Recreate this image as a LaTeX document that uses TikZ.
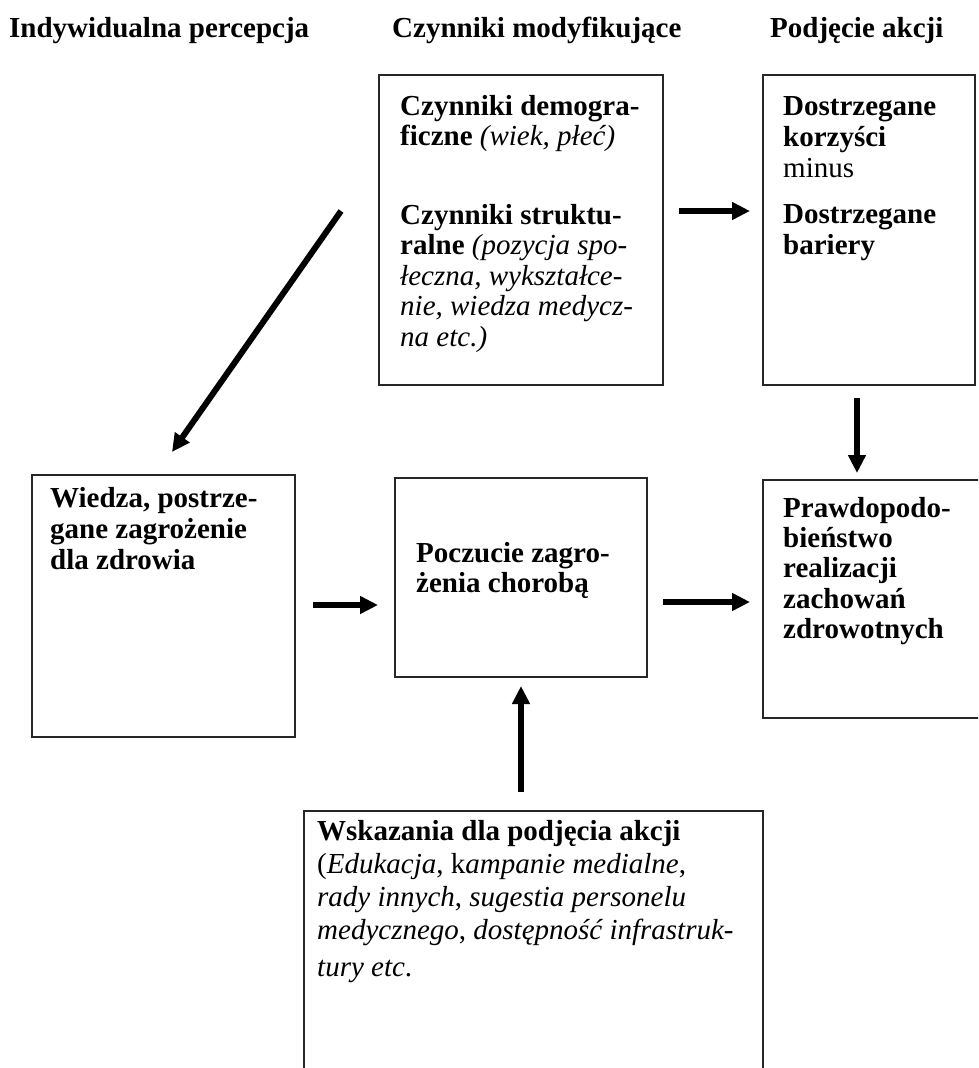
\documentclass[tikz,border=0pt]{standalone}
\usepackage{fontspec}
\setmainfont{Liberation Serif}
\usetikzlibrary{arrows.meta,fit}
\begin{document}
\begin{tikzpicture}[x=1pt,y=-1pt,
  box/.style={draw=black!85, line width=1.3pt, inner sep=0pt, minimum size=0pt},
  head/.style={anchor=base west, inner sep=0pt, font=\fontsize{29}{31}\selectfont\bfseries},
  txt/.style={anchor=north west, inner sep=0pt, align=left, font=\fontsize{29}{#1}\selectfont},
  arr/.style={line width=6pt, -{Triangle[length=18pt,width=17pt]}}]
\useasboundingbox (0,0) rectangle (978,1068);
\clip (0,0) rectangle (978,1068);

% column headers
\node[head] (h1t) at (9,37) {Indywidualna percepcja};
\node[head] (h2t) at (392,37) {Czynniki modyfikujące};
\node[head] (h3t) at (770,37) {Podjęcie akcji};

% boxes
\node[box, fit={(379,75)(663,385)}] (demo) {};
\node[box, fit={(763,75)(975,385)}] (korz) {};
\node[box, fit={(32,475)(295,737)}] (wiedza) {};
\node[box, fit={(395,478)(647,677)}] (pocz) {};
\node[box, fit={(763,480)(995,718)}] (prawd) {};
\node[box, fit={(304,811)(763,1090)}] (wsk) {};

% texts
\node[txt=30.5] (demotxt) at (400,{115-0.7*30.5}) {\strut\textbf{Czynniki demogra-}\\
\textbf{ficzne} \textit{(wiek, płeć)}\\[48pt]
\textbf{Czynniki struktu-}\\
\textbf{ralne} \textit{(pozycja spo-}\\
\textit{łeczna, wykształce-}\\
\textit{nie, wiedza medycz-}\\
\textit{na etc.)}};

\node[txt=31] (korztxt) at (783,{115-0.7*31}) {\strut\textbf{Dostrzegane}\\
\textbf{korzyści}\\
minus\\[15pt]
\textbf{Dostrzegane}\\
\textbf{bariery}};

\node[txt=31] (wiedzatxt) at (50,{507-0.7*31}) {\strut\textbf{Wiedza, postrze-}\\
\textbf{gane zagrożenie}\\
\textbf{dla zdrowia}};

\node[txt=30] (hocztxt) at (416,{562-0.7*30}) {\strut\textbf{Poczucie zagro-}\\
\textbf{żenia chorobą}};

\node[txt=30.3] (prawdtxt) at (783,{517-0.7*30.3}) {\strut\textbf{Prawdopodo-}\\
\textbf{bieństwo}\\
\textbf{realizacji}\\
\textbf{zachowań}\\
\textbf{zdrowotnych}};

\node[txt=33] (wsktxt) at (317,{840-0.7*33}) {\strut\textbf{Wskazania dla podjęcia akcji}\\
(\textit{Edukacja}, k\textit{ampanie medialne},\\
\textit{rady innych}, \textit{sugestia personelu}\\
\textit{medycznego}, \textit{dostępność infrastruk-}\\[4pt]
\textit{tury etc}.};

% arrow end points
\coordinate (d1) at (341,211);
\coordinate (d2) at (172,452);
\coordinate (r1) at (679,211);
\coordinate (r2) at (750,211);
\coordinate (v1) at (857,398);
\coordinate (v2) at (857,473);
\coordinate (a1) at (313,605);
\coordinate (a2) at (378,605);
\coordinate (b1) at (663,602);
\coordinate (b2) at (750,602);
\coordinate (u1) at (521,792);
\coordinate (u2) at (521,686);

\draw[arr] (d1) -- (d2);
\draw[arr] (r1) -- (r2);
\draw[arr] (v1) -- (v2);
\draw[arr] (a1) -- (a2);
\draw[arr] (b1) -- (b2);
\draw[arr] (u1) -- (u2);
\end{tikzpicture}
\end{document}
